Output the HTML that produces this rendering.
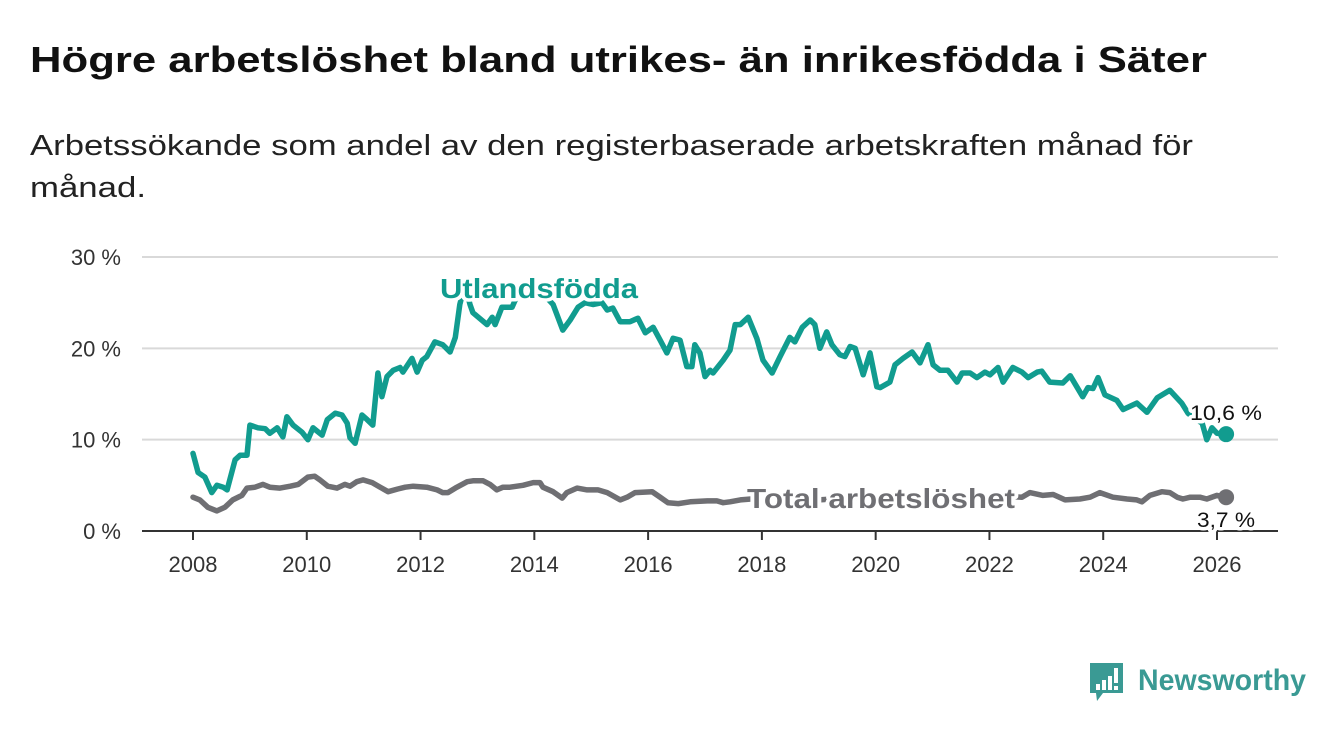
<!DOCTYPE html>
<html><head><meta charset="utf-8">
<style>
html,body{margin:0;padding:0;background:#fff;}
svg{display:block;font-family:"Liberation Sans",sans-serif;}
.halo{paint-order:stroke;stroke:#fff;stroke-width:7px;stroke-linejoin:round;}
</style></head>
<body>
<svg id="chart" width="1340" height="734" viewBox="0 0 1340 734">
<text x="30" y="72" font-size="36" font-weight="bold" fill="#111" textLength="1177" lengthAdjust="spacingAndGlyphs">Högre arbetslöshet bland utrikes- än inrikesfödda i Säter</text>
<text x="30" y="155" font-size="29" fill="#222" textLength="1163" lengthAdjust="spacingAndGlyphs">Arbetssökande som andel av den registerbaserade arbetskraften månad för</text>
<text x="30" y="197" font-size="29" fill="#222" textLength="116" lengthAdjust="spacingAndGlyphs">månad.</text>
<g id="grid"></g>
<g id="yticks"></g>
<g id="xticks"></g>
<g id="series"></g>
<g id="labels"></g>
<g>
<path d="M1090 663 h33 v30 h-20 l-6 8 l-1 -8 h-6 z" fill="#3a9a94"/>
<rect x="1096" y="684" width="4" height="6" fill="#fff"/>
<rect x="1102" y="680" width="4" height="10" fill="#fff"/>
<rect x="1108" y="676" width="4" height="14" fill="#fff"/>
<rect x="1114" y="668" width="4" height="15" fill="#fff"/>
<rect x="1114" y="686" width="4" height="4" fill="#fff"/>
<text x="1138" y="690" font-size="30" font-weight="bold" fill="#3a9a94" textLength="168" lengthAdjust="spacingAndGlyphs">Newsworthy</text>
</g>
</svg>
<script>
const yTicks = [0, 10, 20, 30];
const yTickLabels = ["0 %", "10 %", "20 %", "30 %"];
const xTicks = [2008, 2010, 2012, 2014, 2016, 2018, 2020, 2022, 2024, 2026];
const foreignDates = [2008.00,2008.09,2008.21,2008.33,2008.42,2008.53,2008.60,2008.74,2008.83,2008.95,2009.00,2009.14,2009.27,2009.35,2009.48,2009.58,2009.65,2009.76,2009.92,2010.02,2010.11,2010.27,2010.36,2010.50,2010.62,2010.71,2010.76,2010.85,2010.97,2011.06,2011.16,2011.25,2011.32,2011.41,2011.52,2011.64,2011.69,2011.85,2011.94,2012.03,2012.11,2012.25,2012.39,2012.52,2012.61,2012.69,2012.78,2012.87,2012.92,2013.17,2013.26,2013.31,2013.43,2013.61,2013.75,2013.95,2014.15,2014.33,2014.50,2014.63,2014.77,2014.89,2015.03,2015.19,2015.28,2015.38,2015.51,2015.68,2015.82,2015.95,2016.09,2016.21,2016.33,2016.44,2016.56,2016.68,2016.77,2016.82,2016.91,2017.00,2017.09,2017.14,2017.32,2017.44,2017.53,2017.62,2017.76,2017.91,2018.02,2018.18,2018.32,2018.49,2018.58,2018.71,2018.85,2018.93,2019.02,2019.14,2019.23,2019.37,2019.46,2019.55,2019.64,2019.78,2019.90,2020.02,2020.08,2020.25,2020.34,2020.48,2020.64,2020.78,2020.92,2021.01,2021.13,2021.27,2021.43,2021.52,2021.66,2021.78,2021.92,2022.01,2022.15,2022.24,2022.41,2022.57,2022.68,2022.84,2022.92,2023.06,2023.29,2023.42,2023.64,2023.73,2023.82,2023.91,2024.03,2024.24,2024.35,2024.59,2024.77,2024.95,2025.17,2025.38,2025.49,2025.61,2025.74,2025.82,2025.91,2026.00,2026.16];
const foreignValues = [8.5,6.4,5.9,4.2,5.0,4.8,4.5,7.8,8.3,8.3,11.6,11.3,11.2,10.7,11.3,10.3,12.5,11.6,10.8,10.0,11.3,10.5,12.2,12.9,12.7,11.8,10.2,9.6,12.7,12.2,11.6,17.3,14.7,16.9,17.6,17.9,17.4,18.9,17.4,18.7,19.1,20.7,20.4,19.6,21.2,24.8,27.0,24.8,23.9,22.6,23.4,22.6,24.5,24.5,26.5,27.0,26.0,24.8,22.0,23.1,24.5,25.0,24.8,25.0,24.2,24.4,22.9,22.9,23.3,21.7,22.3,20.9,19.5,21.1,20.9,18.0,18.0,20.4,19.5,16.9,17.6,17.3,18.7,19.8,22.6,22.6,23.4,21.1,18.7,17.3,19.1,21.2,20.7,22.3,23.1,22.6,20.0,21.8,20.4,19.3,19.1,20.2,20.0,17.1,19.5,15.8,15.7,16.3,18.2,18.9,19.6,18.4,20.4,18.2,17.6,17.6,16.3,17.3,17.3,16.8,17.4,17.1,17.9,16.3,17.9,17.4,16.8,17.4,17.5,16.3,16.2,17.0,14.7,15.7,15.6,16.8,14.9,14.3,13.3,14.0,13.0,14.6,15.4,14.0,12.9,12.3,11.8,10.0,11.3,10.7,10.6];
const totalDates = [2008.00,2008.12,2008.26,2008.42,2008.56,2008.70,2008.86,2008.95,2009.09,2009.23,2009.35,2009.53,2009.71,2009.85,2010.02,2010.14,2010.23,2010.37,2010.53,2010.67,2010.76,2010.88,2010.99,2011.15,2011.29,2011.43,2011.60,2011.73,2011.87,2012.11,2012.29,2012.39,2012.48,2012.61,2012.82,2012.92,2013.10,2013.22,2013.34,2013.45,2013.57,2013.80,2013.98,2014.10,2014.15,2014.33,2014.49,2014.57,2014.75,2014.93,2015.12,2015.28,2015.51,2015.63,2015.77,2016.07,2016.21,2016.35,2016.53,2016.74,2017.04,2017.21,2017.32,2017.44,2017.62,2018.0,2018.5,2019.0,2019.5,2020.0,2020.5,2021.0,2021.5,2022.0,2022.3,2022.57,2022.71,2022.94,2023.12,2023.33,2023.59,2023.77,2023.94,2024.17,2024.42,2024.59,2024.68,2024.82,2025.03,2025.17,2025.30,2025.40,2025.53,2025.70,2025.82,2026.00,2026.16];
const totalValues = [3.7,3.4,2.6,2.2,2.6,3.4,3.9,4.7,4.8,5.1,4.8,4.7,4.9,5.1,5.9,6.0,5.6,4.9,4.7,5.1,4.9,5.4,5.6,5.3,4.8,4.3,4.6,4.8,4.9,4.8,4.5,4.2,4.2,4.7,5.4,5.5,5.5,5.1,4.5,4.8,4.8,5.0,5.3,5.3,4.8,4.3,3.6,4.2,4.7,4.5,4.5,4.2,3.4,3.7,4.2,4.3,3.7,3.1,3.0,3.2,3.3,3.3,3.1,3.2,3.4,3.6,3.5,3.4,3.6,3.8,3.6,3.7,3.6,3.6,3.8,3.7,4.2,3.9,4.0,3.4,3.5,3.7,4.2,3.7,3.5,3.4,3.2,3.9,4.3,4.2,3.7,3.5,3.7,3.7,3.5,3.9,3.7];

const NS = "http://www.w3.org/2000/svg";
const X0 = 193, X1 = 1217, Y0 = 531, Y1 = 257;
function xs(t){ return X0 + (t - 2008) / 18 * (X1 - X0); }
function ys(v){ return Y0 - v / 30 * (Y0 - Y1); }
function mk(tag, attrs, parent){ const e = document.createElementNS(NS, tag); for (const k in attrs) e.setAttribute(k, attrs[k]); parent.appendChild(e); return e; }

const grid = document.getElementById('grid');
const yg = document.getElementById('yticks');
yTicks.forEach((v, i) => {
  if (v > 0) {
    const l = mk('line', {x1: 142, x2: 1278, y1: ys(v), y2: ys(v), stroke: '#d9d9d9', 'stroke-width': 2}, grid);
    
    
  }
  const t = mk('text', {x: 121, y: ys(v) + 8, 'font-size': 22, fill: '#333', 'text-anchor': 'end'}, yg);
  t.textContent = yTickLabels[i];
  
  
});
const xg = document.getElementById('xticks');
const ax = mk('line', {x1: 142, x2: 1278, y1: Y0, y2: Y0, stroke: '#333', 'stroke-width': 2}, xg);


xTicks.forEach(yr => {
  const tk = mk('line', {x1: xs(yr), x2: xs(yr), y1: Y0, y2: Y0 + 9, stroke: '#333', 'stroke-width': 2}, xg);
  
  
  const t = mk('text', {x: xs(yr), y: 572, 'font-size': 22, fill: '#333', 'text-anchor': 'middle'}, xg);
  t.textContent = yr;
  
  
});

const sg = document.getElementById('series');
function drawLine(dates, vals, color, name){
  const d = dates.map((t, i) => (i ? 'L' : 'M') + xs(t).toFixed(1) + ' ' + ys(vals[i]).toFixed(1)).join(' ');
  const p = mk('path', {d: d, fill: 'none', stroke: color, 'stroke-width': 5.5, 'stroke-linejoin': 'round', 'stroke-linecap': 'round'}, sg);
  
  
  const n = dates.length - 1;
  const c = mk('circle', {cx: xs(dates[n]), cy: ys(vals[n]), r: 8, fill: color}, sg);
  
  
}
drawLine(totalDates, totalValues, '#6f6f73', 'total');
drawLine(foreignDates, foreignValues, '#119c8f', 'foreign');

const lg = document.getElementById('labels');
function lab(x, y, txt, size, color, bold, len, name){
  const t = mk('text', {x: x, y: y, 'font-size': size, fill: color, 'font-weight': bold ? 'bold' : 'normal', textLength: len, lengthAdjust: 'spacingAndGlyphs', class: 'halo'}, lg);
  t.textContent = txt;
  
  
}
lab(440, 298, 'Utlandsfödda', 28, '#119c8f', true, 198, 'foreign-series-label');
lab(747, 508, 'Total arbetslöshet', 28, '#6f6f73', true, 268, 'total-series-label');
lab(1190, 420, '10,6 %', 21, '#111', false, 72, 'foreign-end-value');
lab(1197, 527, '3,7 %', 21, '#111', false, 58, 'total-end-value');
</script>
</body></html>
